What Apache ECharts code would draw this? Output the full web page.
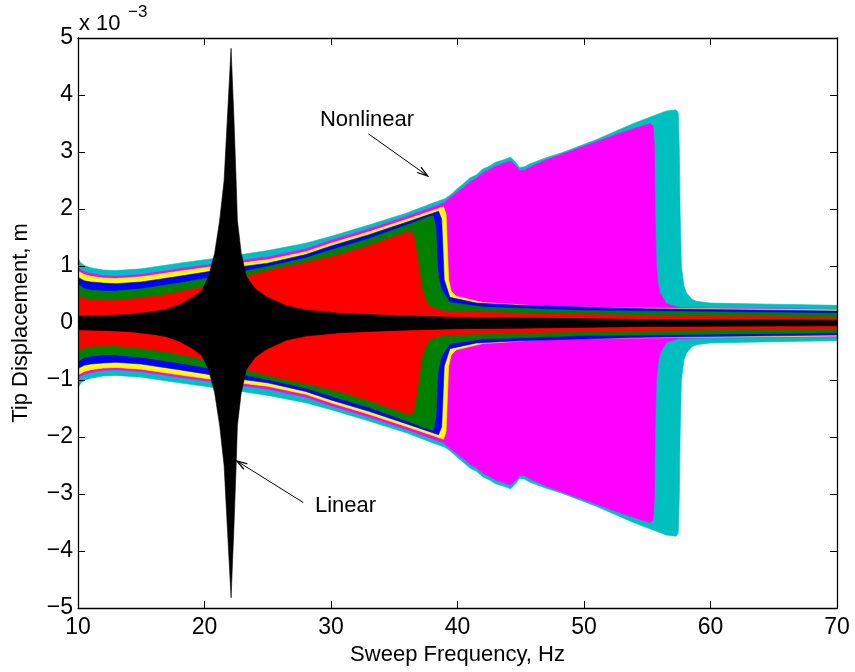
<!DOCTYPE html>
<html>
<head>
<meta charset="utf-8">
<script src="https://cdn.jsdelivr.net/npm/echarts@6/dist/echarts.min.js"></script>
<style>
html,body{margin:0;padding:0;background:#fff;}
#c{width:855px;height:672px;}
</style>
</head>
<body>
<div id="c"></div>
<script>
// Upper envelopes (x 10^-3 m) vs sweep frequency (Hz); lower envelopes mirror them.
const cyanEnv = [[10,1.14],[10.2,1.06],[10.5,1.01],[11,0.97],[12,0.93],[13,0.92],[15,0.95],[18,1.05],[20,1.11],[22,1.17],[25,1.27],[28,1.4],[30,1.52],[33,1.72],[36,1.93],[38,2.1],[39,2.18],[39.4,2.24],[40,2.36],[40.5,2.45],[41,2.55],[41.5,2.6],[42,2.7],[42.5,2.75],[43,2.82],[43.6,2.86],[44.2,2.91],[44.6,2.82],[44.9,2.73],[45.3,2.74],[45.7,2.79],[47,2.9],[48.3,2.99],[51,3.22],[53.9,3.5],[56.5,3.72],[57.27,3.74],[57.45,3.69],[57.53,3.1],[57.6,1.94],[57.7,1.0],[57.9,0.65],[58.1,0.53],[58.5,0.42],[58.9,0.38],[60,0.35],[65,0.33],[70,0.31]];
const magentaEnv = [[10,0.96],[10.5,0.9],[11,0.87],[12,0.83],[13,0.82],[15,0.85],[18,0.95],[20,1.01],[22,1.07],[25,1.16],[28,1.3],[30,1.45],[33,1.65],[36,1.87],[38,2.03],[38.9,2.1],[39.3,2.18],[40,2.3],[40.5,2.38],[41,2.48],[41.5,2.54],[42,2.63],[42.5,2.69],[43,2.75],[43.6,2.8],[44.2,2.84],[44.6,2.76],[44.9,2.67],[45.3,2.68],[45.7,2.73],[47,2.86],[49,3.02],[51,3.18],[53,3.34],[55.2,3.5],[55.45,3.46],[55.56,3.1],[55.62,1.9],[55.72,1.0],[55.85,0.7],[56.0,0.53],[56.5,0.34],[57.5,0.27],[60,0.26],[70,0.24]];
const yellowEnv = [[10,0.91],[10.5,0.85],[11,0.82],[12,0.79],[13,0.78],[15,0.81],[18,0.91],[20,0.97],[22,1.03],[25,1.11],[28,1.25],[30,1.4],[33,1.6],[36,1.82],[38,1.97],[38.9,2.04],[39.1,1.9],[39.2,1.3],[39.3,0.76],[39.5,0.56],[39.9,0.47],[42,0.36],[47,0.29],[55,0.26],[70,0.23]];
const blueEnv = [[10,0.8],[10.5,0.74],[11,0.72],[12,0.7],[13,0.69],[15,0.72],[18,0.82],[20,0.89],[22,0.96],[25,1.05],[28,1.2],[30,1.35],[33,1.55],[36,1.77],[38.5,1.96],[38.75,1.82],[38.85,1.3],[38.95,0.76],[39.4,0.45],[41.5,0.35],[45,0.31],[55,0.25],[70,0.21]];
const greenEnv = [[10,0.68],[10.5,0.6],[11,0.58],[12,0.56],[13,0.56],[15,0.6],[18,0.7],[20,0.78],[22,0.86],[25,0.99],[28,1.14],[30,1.28],[33,1.48],[36,1.72],[37.8,1.87],[38.1,1.88],[38.3,1.64],[38.4,1.06],[38.5,0.8],[38.75,0.58],[39.4,0.36],[42,0.28],[50,0.22],[70,0.17]];
const redEnv = [[10,0.48],[10.5,0.43],[11,0.41],[12,0.4],[13,0.4],[15,0.44],[17,0.5],[18,0.55],[20,0.64],[23.3,0.82],[26,0.97],[28,1.06],[30.7,1.2],[33,1.36],[36.1,1.6],[36.5,1.58],[36.8,1.2],[37,0.9],[37.2,0.6],[37.5,0.4],[37.8,0.29],[38.9,0.21],[45,0.17],[55,0.13],[70,0.1]];
const blackEnv = [[10,0.12],[12,0.13],[14,0.15],[16,0.2],[17,0.24],[18,0.32],[19,0.44],[19.8,0.57],[20.3,0.8],[20.8,1.22],[21.2,1.8],[21.55,2.5],[21.8,3.56],[22.1,4.82],[22.33,3.56],[22.5,2.5],[22.6,1.8],[22.9,1.23],[23.3,0.82],[24,0.6],[24.9,0.46],[26.5,0.3],[28,0.23],[30.7,0.17],[35,0.13],[40,0.1],[45,0.09],[55,0.06],[70,0.05]];

const xTicks = [10, 20, 30, 40, 50, 60, 70];
const yTicks = [-5, -4, -3, -2, -1, 0, 1, 2, 3, 4, 5];

// Annotations (data coordinates)
const nonlinearText = [32.85, 3.57];
const nonlinearArrow = [[32.95, 3.32], [37.64, 2.58]];
const linearText = [31.15, -3.21];
const linearArrow = [[27.81, -3.15], [22.55, -2.42]];

const layers = [
  ['cyan', cyanEnv, '#00BFBF'],
  ['magenta', magentaEnv, '#FF00FF'],
  ['yellow', yellowEnv, '#FFFF00'],
  ['blue', blueEnv, '#0000FF'],
  ['green', greenEnv, '#008000'],
  ['red', redEnv, '#FF0000'],
  ['black', blackEnv, '#000000']
];

const FONT = '"Liberation Sans", Arial, Helvetica, sans-serif';
const series = [];
layers.forEach(([name, env, color], li) => {
  [1, -1].forEach(sign => {
    series.push({
      name: name + (sign > 0 ? '+' : '-'),
      type: 'line',
      xAxisIndex: 0, yAxisIndex: 0,
      z: 2 + li,
      data: env.map(p => [p[0], sign * p[1]]),
      showSymbol: false,
      symbol: 'none',
      smooth: false,
      silent: true,
      animation: false,
      lineStyle: { color: color, width: 0.6 },
      itemStyle: { color: color },
      areaStyle: { color: color, opacity: 1, origin: 0 }
    });
  });
});

const fmtY = v => (v < 0 ? '\u2212' + Math.abs(v) : String(v));
const xMin = xTicks[0], xMax = xTicks[xTicks.length - 1];
const yMin = yTicks[0], yMax = yTicks[yTicks.length - 1];

const axisCommonX = {
  type: 'value', min: xMin, max: xMax, interval: xTicks[1] - xTicks[0],
  z: 20,
  axisLine: { show: true, onZero: false, lineStyle: { color: '#000', width: 1.3 } },
  axisTick: { show: true, inside: true, length: 7, lineStyle: { color: '#000', width: 1 } },
  splitLine: { show: false }
};
const axisCommonY = {
  type: 'value', min: yMin, max: yMax, interval: yTicks[1] - yTicks[0],
  z: 20,
  axisLine: { show: true, onZero: false, lineStyle: { color: '#000', width: 1.3 } },
  axisTick: { show: true, inside: true, length: 7, lineStyle: { color: '#000', width: 1 } },
  splitLine: { show: false }
};

const chart = echarts.init(document.getElementById('c'), null, { renderer: 'canvas' });
chart.setOption({
  animation: false,
  backgroundColor: '#fff',
  grid: { left: 78, right: 18, top: 38, bottom: 64, containLabel: false },
  xAxis: [
    Object.assign({}, axisCommonX, {
      position: 'bottom',
      name: 'Sweep Frequency, Hz', nameLocation: 'middle', nameGap: 36,
      nameTextStyle: { fontFamily: FONT, fontSize: 22, color: '#000' },
      axisLabel: { show: true, fontFamily: FONT, fontSize: 23, color: '#000', margin: 8 }
    }),
    Object.assign({}, axisCommonX, { position: 'top', axisLabel: { show: false } })
  ],
  yAxis: [
    Object.assign({}, axisCommonY, {
      position: 'left',
      name: 'Tip Displacement, m', nameLocation: 'middle', nameGap: 46,
      nameTextStyle: { fontFamily: FONT, fontSize: 22, color: '#000' },
      axisLabel: { show: true, fontFamily: FONT, fontSize: 23, color: '#000', margin: 5, formatter: fmtY }
    }),
    Object.assign({}, axisCommonY, { position: 'right', axisLabel: { show: false } })
  ],
  series: series
});

function arrowGraphic(tail, head) {
  const p0 = chart.convertToPixel({ xAxisIndex: 0, yAxisIndex: 0 }, tail);
  const p1 = chart.convertToPixel({ xAxisIndex: 0, yAxisIndex: 0 }, head);
  const ang = Math.atan2(p1[1] - p0[1], p1[0] - p0[0]);
  const L = 11, a = 0.3;
  const h1 = [p1[0] - L * Math.cos(ang - a), p1[1] - L * Math.sin(ang - a)];
  const h2 = [p1[0] - L * Math.cos(ang + a), p1[1] - L * Math.sin(ang + a)];
  return [
    { type: 'line', shape: { x1: p0[0], y1: p0[1], x2: p1[0], y2: p1[1] }, style: { stroke: '#000', lineWidth: 1 }, z: 100 },
    { type: 'polyline', shape: { points: [h1, p1, h2] }, style: { stroke: '#000', lineWidth: 1.3, fill: null }, z: 100 }
  ];
}
function textGraphic(pos, str) {
  const p = chart.convertToPixel({ xAxisIndex: 0, yAxisIndex: 0 }, pos);
  return { type: 'text', x: p[0], y: p[1], z: 100,
    style: { text: str, fontFamily: FONT, fontSize: 22, fill: '#000', align: 'center', verticalAlign: 'middle' } };
}
const topLeft = chart.convertToPixel({ xAxisIndex: 0, yAxisIndex: 0 }, [xMin, yMax]);
chart.setOption({
  graphic: [
    textGraphic(nonlinearText, 'Nonlinear'),
    textGraphic(linearText, 'Linear'),
    ...arrowGraphic(nonlinearArrow[0], nonlinearArrow[1]),
    ...arrowGraphic(linearArrow[0], linearArrow[1]),
    { type: 'text', x: topLeft[0] + 1, y: topLeft[1] - 14, z: 100,
      style: { text: 'x 10', fontFamily: FONT, fontSize: 22, fill: '#000', align: 'left', verticalAlign: 'middle' } },
    { type: 'text', x: topLeft[0] + 50, y: topLeft[1] - 26, z: 100,
      style: { text: '\u22123', fontFamily: FONT, fontSize: 17, fill: '#000', align: 'left', verticalAlign: 'middle' } }
  ]
});
</script>
</body>
</html>
